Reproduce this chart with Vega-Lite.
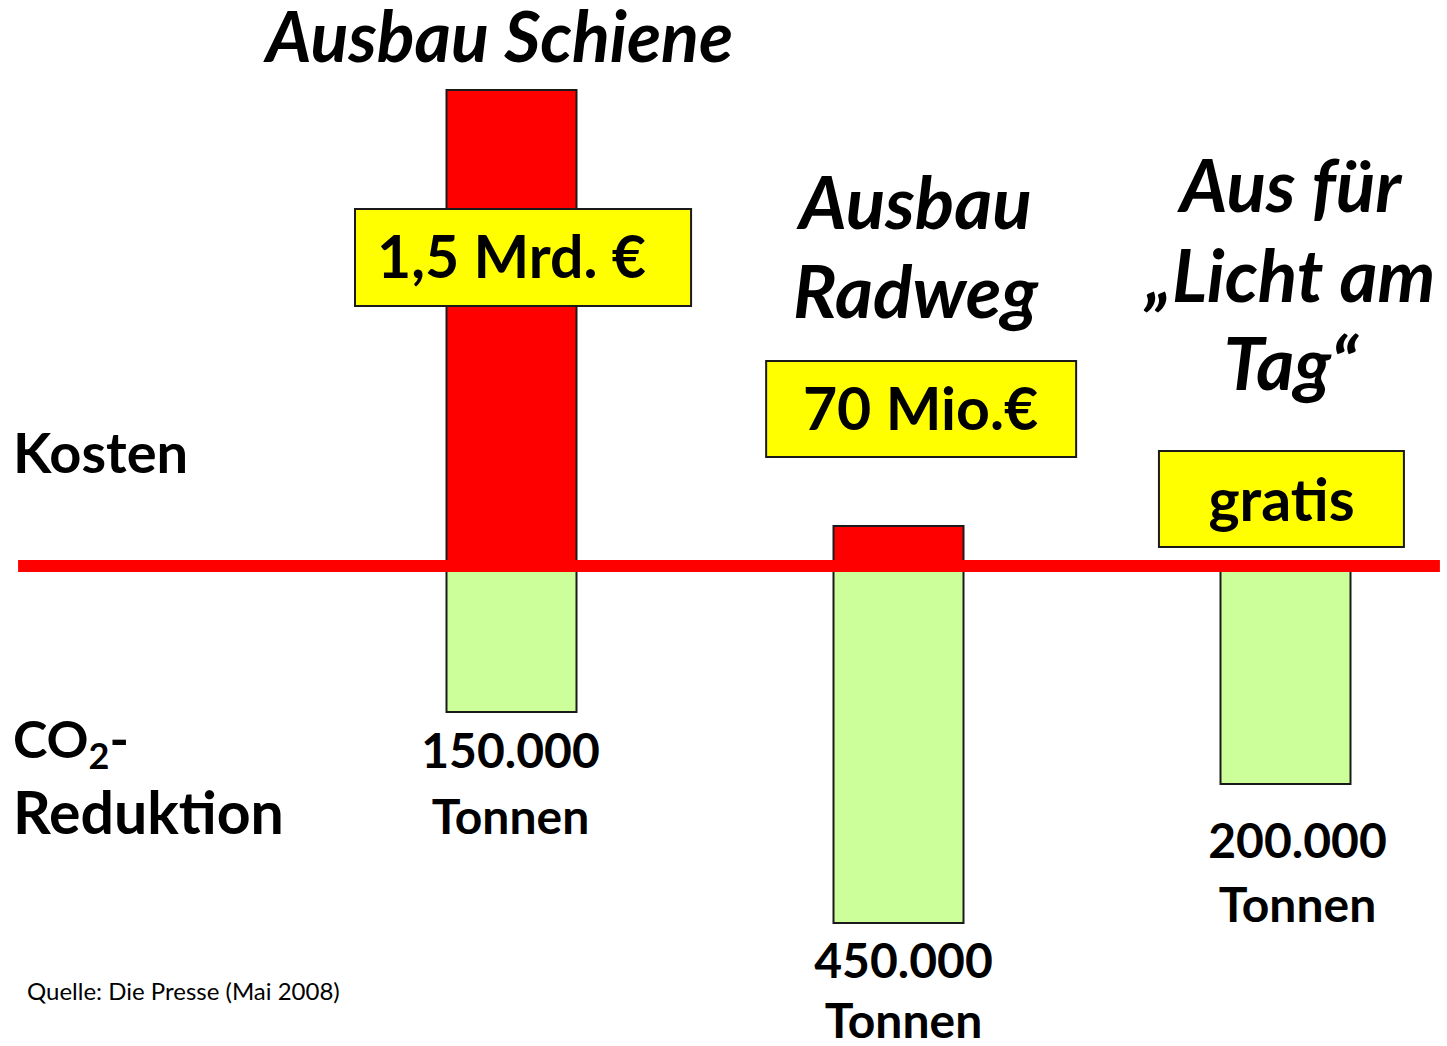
{
  "$schema": "https://vega.github.io/schema/vega-lite/v6.json",
  "width": 1447,
  "height": 1046,
  "autosize": "none",
  "padding": 0,
  "background": "white",
  "config": {"view": {"stroke": null}, "text": {"font": "Lato", "color": "black"}},
  "datasets": {
    "bars": [
      {"cat": "Schiene", "kind": "Kosten", "h": 476},
      {"cat": "Radweg", "kind": "Kosten", "h": 40},
      {"cat": "Schiene", "kind": "CO2", "h": -146},
      {"cat": "Radweg", "kind": "CO2", "h": -357},
      {"cat": "Licht", "kind": "CO2", "h": -218}
    ],
    "baseline": [{"from": "Legende", "to": "Licht", "v": 0}],
    "boxes": [
      {"cat": "Schiene", "top": 357, "bottom": 260},
      {"cat": "Radweg", "top": 205, "bottom": 109},
      {"cat": "Licht", "top": 115, "bottom": 19}
    ],
    "labels": [
      {"cat": "Schiene", "kind": "title", "text": "Ausbau Schiene", "y": 505},
      {"cat": "Radweg", "kind": "title", "text": "Ausbau", "y": 337},
      {"cat": "Radweg", "kind": "title", "text": "Radweg", "y": 248},
      {"cat": "Licht", "kind": "title", "text": "Aus für", "y": 354},
      {"cat": "Licht", "kind": "title", "text": "„Licht am", "y": 264},
      {"cat": "Licht", "kind": "title", "text": "Tag“", "y": 176},
      {"cat": "Schiene", "kind": "box", "text": "1,5 Mrd. €", "y": 288},
      {"cat": "Radweg", "kind": "box", "text": "70 Mio.€", "y": 136},
      {"cat": "Licht", "kind": "box", "text": "gratis", "y": 45},
      {"cat": "Schiene", "kind": "amount", "text": "150.000", "y": -202},
      {"cat": "Schiene", "kind": "amount", "text": "Tonnen", "y": -268},
      {"cat": "Radweg", "kind": "amount", "text": "450.000", "y": -412},
      {"cat": "Radweg", "kind": "amount", "text": "Tonnen", "y": -472},
      {"cat": "Licht", "kind": "amount", "text": "200.000", "y": -292},
      {"cat": "Licht", "kind": "amount", "text": "Tonnen", "y": -356},
      {"cat": "Legende", "kind": "kosten", "text": "Kosten", "y": 93},
      {"cat": "Legende", "kind": "co", "text": "CO", "y": -192},
      {"cat": "Legende", "kind": "sub", "text": "2", "y": -203},
      {"cat": "Legende", "kind": "dash", "text": "-", "y": -192},
      {"cat": "Legende", "kind": "co2", "text": "Reduktion", "y": -268},
      {"cat": "Legende", "kind": "source", "text": "Quelle: Die Presse (Mai 2008)", "y": -434}
    ]
  },
  "encoding": {
    "x": {"field": "cat", "type": "nominal", "axis": null,
      "scale": {"type": "band", "domain": ["Legende", "Schiene", "Radweg", "Licht"], "range": [-69, 1479], "paddingInner": 0, "paddingOuter": 0}},
    "y": {"field": "y", "type": "quantitative", "axis": null,
      "scale": {"domain": [-480, 566], "nice": false, "zero": false}}
  },
  "layer": [
    {
      "data": {"name": "bars"},
      "mark": {"type": "bar", "width": 130, "stroke": "#1a1a1a", "strokeWidth": 2},
      "encoding": {
        "y": {"field": "h", "type": "quantitative"},
        "y2": {"datum": 0},
        "color": {"field": "kind", "type": "nominal", "legend": null,
          "scale": {"domain": ["Kosten", "CO2"], "range": ["#ff0000", "#ccff99"]}}
      }
    },
    {
      "data": {"name": "baseline"},
      "mark": {"type": "rule", "color": "#ff0000", "strokeWidth": 12, "strokeCap": "butt"},
      "encoding": {
        "x": {"field": "from", "type": "nominal", "bandPosition": 0.225},
        "x2": {"field": "to", "bandPosition": 0.899},
        "y": {"field": "v", "type": "quantitative"}
      }
    },
    {
      "data": {"name": "boxes"},
      "transform": [{"filter": "datum.cat === 'Schiene'"}],
      "mark": {"type": "rect", "fill": "#ffff00", "stroke": "#1a1a1a", "strokeWidth": 2},
      "encoding": {
        "x": {"field": "cat", "type": "nominal", "bandPosition": 0.0956},
        "x2": {"field": "cat", "bandPosition": 0.964},
        "y": {"field": "top", "type": "quantitative"},
        "y2": {"field": "bottom"}
      }
    },
    {
      "data": {"name": "boxes"},
      "transform": [{"filter": "datum.cat === 'Radweg'"}],
      "mark": {"type": "rect", "fill": "#ffff00", "stroke": "#1a1a1a", "strokeWidth": 2},
      "encoding": {
        "x": {"field": "cat", "type": "nominal", "bandPosition": 0.158},
        "x2": {"field": "cat", "bandPosition": 0.959},
        "y": {"field": "top", "type": "quantitative"},
        "y2": {"field": "bottom"}
      }
    },
    {
      "data": {"name": "boxes"},
      "transform": [{"filter": "datum.cat === 'Licht'"}],
      "mark": {"type": "rect", "fill": "#ffff00", "stroke": "#1a1a1a", "strokeWidth": 2},
      "encoding": {
        "x": {"field": "cat", "type": "nominal", "bandPosition": 0.173},
        "x2": {"field": "cat", "bandPosition": 0.806},
        "y": {"field": "top", "type": "quantitative"},
        "y2": {"field": "bottom"}
      }
    },
    {
      "data": {"name": "labels"},
      "transform": [{"filter": "datum.kind === 'title' && datum.cat === 'Schiene'"}],
      "mark": {"type": "text", "fontSize": 70, "fontWeight": "bold", "fontStyle": "italic", "baseline": "alphabetic", "align": "center", "dx": -12, "dy": 1},
      "encoding": {"text": {"field": "text"}}
    },
    {
      "data": {"name": "labels"},
      "transform": [{"filter": "datum.kind === 'title' && datum.cat === 'Radweg'"}],
      "mark": {"type": "text", "fontSize": 73, "fontWeight": "bold", "fontStyle": "italic", "baseline": "alphabetic", "align": "center", "dx": 17},
      "encoding": {"text": {"field": "text"}}
    },
    {
      "data": {"name": "labels"},
      "transform": [{"filter": "datum.kind === 'title' && datum.cat === 'Licht'"}],
      "mark": {"type": "text", "fontSize": 73, "fontWeight": "bold", "fontStyle": "italic", "baseline": "alphabetic", "align": "center", "dx": 5},
      "encoding": {"text": {"field": "text"}}
    },
    {
      "data": {"name": "labels"},
      "transform": [{"filter": "datum.kind === 'box' && datum.cat === 'Schiene'"}],
      "mark": {"type": "text", "fontSize": 59, "fontWeight": "bold", "baseline": "alphabetic", "align": "center", "dx": 0},
      "encoding": {"text": {"field": "text"}}
    },
    {
      "data": {"name": "labels"},
      "transform": [{"filter": "datum.kind === 'box' && datum.cat === 'Radweg'"}],
      "mark": {"type": "text", "fontSize": 59, "fontWeight": "bold", "baseline": "alphabetic", "align": "center", "dx": 22},
      "encoding": {"text": {"field": "text"}}
    },
    {
      "data": {"name": "labels"},
      "transform": [{"filter": "datum.kind === 'box' && datum.cat === 'Licht'"}],
      "mark": {"type": "text", "fontSize": 59, "fontWeight": "bold", "baseline": "alphabetic", "align": "center", "dx": -4},
      "encoding": {"text": {"field": "text"}}
    },
    {
      "data": {"name": "labels"},
      "transform": [{"filter": "datum.kind === 'amount' && datum.cat === 'Schiene'"}],
      "mark": {"type": "text", "fontSize": 48, "fontWeight": "bold", "baseline": "alphabetic", "align": "center", "dx": -1},
      "encoding": {"text": {"field": "text"}}
    },
    {
      "data": {"name": "labels"},
      "transform": [{"filter": "datum.kind === 'amount' && datum.cat === 'Radweg'"}],
      "mark": {"type": "text", "fontSize": 48, "fontWeight": "bold", "baseline": "alphabetic", "align": "center", "dx": 5},
      "encoding": {"text": {"field": "text"}}
    },
    {
      "data": {"name": "labels"},
      "transform": [{"filter": "datum.kind === 'amount' && datum.cat === 'Licht'"}],
      "mark": {"type": "text", "fontSize": 48, "fontWeight": "bold", "baseline": "alphabetic", "align": "center", "dx": 12},
      "encoding": {"text": {"field": "text"}}
    },
    {
      "data": {"name": "labels"},
      "transform": [{"filter": "datum.kind === 'kosten'"}],
      "mark": {"type": "text", "fontSize": 56, "fontWeight": "bold", "baseline": "alphabetic", "align": "left", "dx": -111.5},
      "encoding": {"text": {"field": "text"}}
    },
    {
      "data": {"name": "labels"},
      "transform": [{"filter": "datum.kind === 'co2'"}],
      "mark": {"type": "text", "fontSize": 59, "fontWeight": "bold", "baseline": "alphabetic", "align": "left", "dx": -111.5},
      "encoding": {"text": {"field": "text"}}
    },
    {
      "data": {"name": "labels"},
      "transform": [{"filter": "datum.kind === 'co'"}],
      "mark": {"type": "text", "fontSize": 52, "fontWeight": "bold", "baseline": "alphabetic", "align": "left", "dx": -111.5},
      "encoding": {"text": {"field": "text"}}
    },
    {
      "data": {"name": "labels"},
      "transform": [{"filter": "datum.kind === 'sub'"}],
      "mark": {"type": "text", "fontSize": 36, "fontWeight": "bold", "baseline": "alphabetic", "align": "left", "dx": -36},
      "encoding": {"text": {"field": "text"}}
    },
    {
      "data": {"name": "labels"},
      "transform": [{"filter": "datum.kind === 'dash'"}],
      "mark": {"type": "text", "fontSize": 52, "fontWeight": "bold", "baseline": "alphabetic", "align": "left", "dx": -15},
      "encoding": {"text": {"field": "text"}}
    },
    {
      "data": {"name": "labels"},
      "transform": [{"filter": "datum.kind === 'source'"}],
      "mark": {"type": "text", "fontSize": 24, "baseline": "alphabetic", "align": "left", "dx": -97.5},
      "encoding": {"text": {"field": "text"}}
    }
  ]
}
